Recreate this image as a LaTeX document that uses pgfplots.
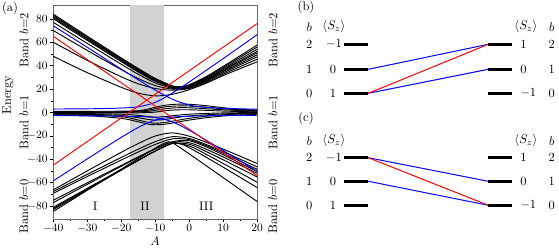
\documentclass[border=0pt]{standalone}
\usepackage{pgfplots}
\pgfplotsset{compat=1.18}
\begin{document}
\begin{tikzpicture}
\path[use as bounding box] (0,0) rectangle (447.2bp,199.2bp);
\begin{axis}[
  at={(42.6bp,24bp)}, anchor=south west,
  width=163.2bp, height=171.4bp, scale only axis,
  xmin=-40, xmax=20, ymin=-91, ymax=92,
  xtick={-40,-30,...,20}, ytick={-80,-60,...,80},
  minor x tick num=1, minor y tick num=1,
  tick align=outside, xtick pos=bottom, ytick pos=left,
  major tick length=2.5pt, minor tick length=1.5pt,
  axis line style={black!60},
  every tick/.style={black},
  tick label style={font=\small},
  xticklabel style={yshift=1.5pt},
  yticklabel style={xshift=1.5pt},
  every axis plot/.append style={line width=0.75bp},
]
\addplot[fill=gray!35, draw=none, line width=0pt] coordinates {(-17.5,-91) (-17.5,92) (-7.5,92) (-7.5,-91)} -- cycle;
% upper band
\addplot[black, smooth] coordinates {(-40,84) (-30,65.2) (-20,46.6) (-15,37.6) (-10,29.1) (-5,22.8) (-3,22.0) (0,23.7) (5,30.7) (10,39.4) (15,48.5) (20,57.7)};
\addplot[black, smooth] coordinates {(-40,83) (-30,64.3) (-20,45.8) (-15,36.8) (-10,28.4) (-5,22.4) (-3,21.7) (0,23.2) (5,30.0) (10,38.5) (15,47.2) (20,56)};
\addplot[black, smooth] coordinates {(-40,82) (-30,63.4) (-20,45.0) (-15,36.0) (-10,27.8) (-5,22.0) (-3,21.4) (0,22.7) (5,29.2) (10,37.4) (15,45.7) (20,54)};
\addplot[black, smooth] coordinates {(-40,81) (-30,62.5) (-20,44.2) (-15,35.2) (-10,27.2) (-5,21.6) (-3,21.1) (0,22.3) (5,28.6) (10,36.5) (15,44.3) (20,52.2)};
\addplot[black, smooth] coordinates {(-40,80) (-30,61.6) (-20,43.4) (-15,34.5) (-10,26.6) (-5,21.2) (-3,20.8) (0,21.9) (5,28.0) (10,35.7) (15,43.3) (20,51)};
\addplot[black, smooth] coordinates {(-40,77) (-30,59.0) (-20,41.2) (-15,32.6) (-10,25.2) (-5,20.6) (-3,20.4) (0,21.4) (5,27.3) (10,34.8) (15,42.0) (20,49.3)};
\addplot[black, smooth] coordinates {(-40,70) (-30,53.0) (-20,36.6) (-15,29.0) (-10,23.0) (-5,20.0) (0,21.0) (5,26.6) (10,33.8) (15,40.8) (20,47.5)};
\addplot[black, smooth] coordinates {(-40,60) (-30,44.5) (-20,30.5) (-15,24.5) (-10,20.5) (-5,19.0) (0,20.5) (5,25.8) (10,32.6) (15,39.2) (20,45.5)};
\addplot[black, smooth] coordinates {(-40,48) (-30,34.0) (-20,21.5) (-15,16.5) (-10,14.2) (-5,15.5) (0,19.5) (5,25.0) (10,31.5) (15,37.5) (20,43.3)};
% middle band
\addplot[black, smooth] coordinates {(-40,1.0) (-30,1.0) (-20,1.1) (-15,1.5) (-12,3.0) (-10,4.5) (-7,6.2) (-4,7.0) (0,7.0) (5,5.8) (10,4.0) (15,2.8) (20,2.0)};
\addplot[black, smooth] coordinates {(-40,0.5) (-30,0.5) (-20,0.6) (-15,1.0) (-12,2.0) (-10,3.2) (-7,4.8) (-4,5.5) (0,5.5) (5,4.5) (10,3.2) (15,2.2) (20,1.5)};
\addplot[black, smooth] coordinates {(-40,0.0) (-30,0.0) (-20,0.1) (-15,0.5) (-12,1.0) (-10,1.8) (-7,3.2) (-4,4.0) (0,4.0) (5,3.2) (10,2.3) (15,1.6) (20,1.0)};
\addplot[black, smooth] coordinates {(-40,-0.5) (-30,-0.5) (-20,-0.4) (-15,-0.3) (-12,0.0) (-10,0.3) (-7,1.5) (-4,2.2) (0,2.3) (5,1.8) (10,1.2) (15,0.8) (20,0.5)};
\addplot[black, smooth] coordinates {(-40,-1.0) (-30,-1.0) (-20,-1.5) (-15,-2.5) (-12,-3.5) (-10,-4.0) (-7,-3.5) (-4,-2.5) (0,-1.5) (5,-0.8) (10,-0.4) (15,-0.2) (20,0.0)};
\addplot[black, smooth] coordinates {(-40,-1.5) (-30,-1.6) (-20,-2.5) (-15,-4.5) (-12,-6.0) (-10,-6.5) (-7,-6.0) (-4,-4.5) (0,-3.0) (5,-2.0) (10,-1.2) (15,-0.8) (20,-0.5)};
\addplot[black, smooth] coordinates {(-40,-2.0) (-30,-2.2) (-20,-3.5) (-15,-6.5) (-12,-8.5) (-10,-9.2) (-7,-8.5) (-4,-7.0) (0,-5.0) (5,-3.2) (10,-2.0) (15,-1.4) (20,-1.0)};
\addplot[black, smooth] coordinates {(-40,-2.5) (-30,-2.8) (-20,-5.0) (-15,-8.0) (-12,-10.0) (-10,-10.5) (-7,-10.0) (-4,-8.5) (0,-6.5) (5,-4.5) (10,-3.0) (15,-2.2) (20,-1.5)};
% lower band
\addplot[black, smooth] coordinates {(-40,-84.57) (-30,-66.49) (-20,-48.42) (-15,-39.4) (-10,-30.5) (-8,-27.1) (-6,-25) (-5,-25.9) (-3,-29.46) (0,-35.41) (5,-45.53) (10,-55.71) (15,-65.89) (20,-76.08)};
\addplot[black, smooth] coordinates {(-40,-82.97) (-30,-66.12) (-20,-49.33) (-15,-41.0) (-10,-32.9) (-5,-26.3) (-4,-26.0) (-2,-27.34) (0,-30.1) (5,-38.3) (10,-46.8) (15,-55.5) (20,-64.2)};
\addplot[black, smooth] coordinates {(-40,-82) (-30,-65.5) (-20,-49) (-15,-40.9) (-10,-33) (-5,-26.4) (0,-28.6) (5,-35.8) (10,-43.6) (15,-51.6) (20,-59.7)};
\addplot[black, smooth] coordinates {(-40,-81.03) (-30,-64.81) (-20,-48.68) (-15,-40.72) (-10,-33.0) (-5,-26.53) (0,-27.14) (5,-33.39) (10,-40.48) (15,-47.76) (20,-55.12)};
\addplot[black, smooth] coordinates {(-40,-77.02) (-30,-61.41) (-20,-45.93) (-15,-38.35) (-10,-31.1) (-5,-25.35) (0,-25.8) (5,-31.4) (10,-38.05) (15,-44.99) (20,-52.02)};
\addplot[black, smooth] coordinates {(-40,-75.0) (-30,-60.07) (-20,-45.25) (-15,-37.97) (-10,-30.96) (-5,-25.02) (0,-24.17) (5,-29.44) (10,-36.2) (15,-43.31) (20,-50.54)};
\addplot[black, smooth] coordinates {(-40,-69.06) (-30,-54.74) (-20,-40.61) (-15,-33.75) (-10,-27.33) (-5,-22.59) (0,-23.19) (5,-28.39) (10,-34.84) (15,-41.65) (20,-48.59)};
\addplot[black, smooth] coordinates {(-40,-67.59) (-30,-52.88) (-20,-38.38) (-15,-31.38) (-10,-24.94) (-5,-20.71) (0,-22.22) (5,-27.4) (10,-33.53) (15,-39.95) (20,-46.5)};
\addplot[black, smooth] coordinates {(-40,-66.13) (-30,-49.92) (-20,-34.06) (-15,-26.56) (-10,-20.14) (-5,-17.45) (0,-20.28) (5,-25.47) (10,-31.32) (15,-37.43) (20,-43.63)};
% blue
\addplot[blue, smooth] coordinates {(-40,74.0) (-30,55.7) (-25,46.3) (-20,37.0) (-15,27.9) (-10,19.1) (-5,11.35) (0,6.3) (5,4.3) (10,3.5) (15,3.1) (20,2.8)};
\addplot[blue, smooth] coordinates {(-40,2.92) (-30,3.13) (-25,3.35) (-20,3.76) (-15,4.86) (-10,8.6) (-5,16.5) (0,26.06) (5,36.0) (10,46.07) (15,56.2) (20,66.6)};
\addplot[blue, smooth] coordinates {(-40,-58.44) (-30,-39.66) (-25,-30.4) (-20,-21.3) (-15,-12.8) (-10,-6.5) (-5,-4.0) (0,-3.18) (5,-2.8) (10,-2.6) (20,-2.4)};
\addplot[blue, smooth] coordinates {(-40,-2.76) (-30,-2.87) (-20,-3.14) (-15,-3.47) (-10,-4.4) (-5,-7.94) (0,-15.25) (5,-23.75) (10,-32.5) (15,-41.4) (20,-50.3)};
% red
\addplot[red] coordinates {(-40,-45) (20,76)};
\addplot[red] coordinates {(-40,65) (20,-54)};
\node at (axis cs:-27.7,-80) {I};
\node at (axis cs:-13,-80) {II};
\node at (axis cs:5,-80) {III};
\end{axis}
% outer labels of (a)
\node at (8bp,192.8bp) {(a)};
\node[rotate=90] at (6.4bp,123.2bp) {Energy};
\node[rotate=90] at (19.2bp,167.2bp) {Band $b$=2};
\node[rotate=90] at (19.2bp,101.6bp) {Band $b$=1};
\node[rotate=90] at (19.2bp,34bp) {Band $b$=0};
\node[rotate=90] at (218.4bp,167.2bp) {Band $b$=2};
\node[rotate=90] at (218.4bp,101.6bp) {Band $b$=1};
\node[rotate=90] at (218.4bp,34bp) {Band $b$=0};
\node at (124bp,6.4bp) {$A$};
% panels (b) and (c)
\begin{axis}[
  at={(224bp,0bp)}, anchor=south west,
  width=223.2bp, height=199.2bp, scale only axis,
  xmin=280, xmax=559, ymin=0, ymax=249, y dir=reverse,
  hide axis, clip=false,
]
% (b)
\addplot[blue, line width=0.8bp] coordinates {(368.3,69.3) (488.3,44.3)};
\addplot[blue, line width=0.8bp] coordinates {(368.3,93.3) (488.3,69.3)};
\addplot[red, line width=0.8bp] coordinates {(368.3,93.3) (488.3,44.3)};
\addplot[black, line width=2.2bp] coordinates {(344,44.3) (368.3,44.3)};
\addplot[black, line width=2.2bp] coordinates {(344,69.3) (368.3,69.3)};
\addplot[black, line width=2.2bp] coordinates {(344,93.3) (368.3,93.3)};
\addplot[black, line width=2.2bp] coordinates {(488.3,44.3) (512.3,44.3)};
\addplot[black, line width=2.2bp] coordinates {(488.3,69.3) (512.3,69.3)};
\addplot[black, line width=2.2bp] coordinates {(488.3,93.3) (512.3,93.3)};
% (c)
\addplot[blue, line width=0.8bp] coordinates {(368.3,157.7) (488.3,181.3)};
\addplot[blue, line width=0.8bp] coordinates {(368.3,181.3) (488.3,205.3)};
\addplot[red, line width=0.8bp] coordinates {(368.3,157.7) (488.3,205.3)};
\addplot[black, line width=2.2bp] coordinates {(344,157.7) (368.3,157.7)};
\addplot[black, line width=2.2bp] coordinates {(344,181.3) (368.3,181.3)};
\addplot[black, line width=2.2bp] coordinates {(344,205.3) (368.3,205.3)};
\addplot[black, line width=2.2bp] coordinates {(488.3,157.7) (512.3,157.7)};
\addplot[black, line width=2.2bp] coordinates {(488.3,181.3) (512.3,181.3)};
\addplot[black, line width=2.2bp] coordinates {(488.3,205.3) (512.3,205.3)};
% texts (b)
\node at (axis cs:306,7) {(b)};
\node at (axis cs:309.3,26.7) {$b$};
\node at (axis cs:334,26.7) {$\langle S_z\rangle$};
\node at (axis cs:526,26.7) {$\langle S_z\rangle$};
\node at (axis cs:551.7,26.7) {$b$};
\node at (axis cs:309.3,44.3) {2};
\node at (axis cs:309.3,69.3) {1};
\node at (axis cs:309.3,93.3) {0};
\node[anchor=east, inner sep=0pt] at (axis cs:342,44.3) {$-1$};
\node at (axis cs:333,69.3) {0};
\node at (axis cs:333,93.3) {1};
\node[anchor=west, inner sep=0pt] at (axis cs:520,44.3) {1};
\node[anchor=west, inner sep=0pt] at (axis cs:520,69.3) {0};
\node[anchor=west, inner sep=0pt] at (axis cs:520,93.3) {$-1$};
\node at (axis cs:551.7,44.3) {2};
\node at (axis cs:551.7,69.3) {1};
\node at (axis cs:551.7,93.3) {0};
% texts (c)
\node at (axis cs:306,118) {(c)};
\node at (axis cs:309.3,140.7) {$b$};
\node at (axis cs:334,140.7) {$\langle S_z\rangle$};
\node at (axis cs:526,140.7) {$\langle S_z\rangle$};
\node at (axis cs:551.7,140.7) {$b$};
\node at (axis cs:309.3,157.7) {2};
\node at (axis cs:309.3,181.3) {1};
\node at (axis cs:309.3,205.3) {0};
\node[anchor=east, inner sep=0pt] at (axis cs:342,157.7) {$-1$};
\node at (axis cs:333,181.3) {0};
\node at (axis cs:333,205.3) {1};
\node[anchor=west, inner sep=0pt] at (axis cs:520,157.7) {1};
\node[anchor=west, inner sep=0pt] at (axis cs:520,181.3) {0};
\node[anchor=west, inner sep=0pt] at (axis cs:520,205.3) {$-1$};
\node at (axis cs:551.7,157.7) {2};
\node at (axis cs:551.7,181.3) {1};
\node at (axis cs:551.7,205.3) {0};
\end{axis}
\end{tikzpicture}
\end{document}
